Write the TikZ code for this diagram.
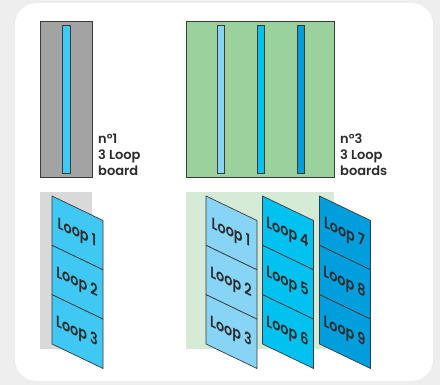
\documentclass[tikz,border=0pt]{standalone}
\usepackage{fontspec}
\setmainfont{Poppins}[BoldFont={Poppins SemiBold}]
\definecolor{pagebg}{HTML}{EEEEEE}
\definecolor{boardgray}{HTML}{A3A3A4}
\definecolor{boardgreen}{HTML}{9BD19C}
\definecolor{shadowgray}{HTML}{D9D9D9}
\definecolor{shadowgreen}{HTML}{D5EBD6}
\definecolor{loopmid}{HTML}{40C8F5}
\definecolor{looplight}{HTML}{87D4F7}
\definecolor{loopcyan}{HTML}{00C1F0}
\definecolor{loopdark}{HTML}{009EDD}
\definecolor{inkdark}{HTML}{2B2B2B}
\definecolor{edgedark}{HTML}{3A3A3A}

\tikzset{
  boardline/.style={draw=edgedark, line width=0.8pt},
  panel/.style={draw=edgedark, line width=0.7pt, line join=round},
  caption/.style={font=\bfseries\fontsize{13}{16}\selectfont, text=inkdark,
    anchor=base west, inner sep=0pt},
  looplabel/.style={font=\bfseries\fontsize{16}{18}\selectfont, text=inkdark,
    yslant=-0.48, xscale=0.8, transform shape, inner sep=0pt},
}

% one slanted column of three loop panels: left x, fill, three numbers
\newcommand\loopcolumn[5]{%
  \foreach \n [count=\i from 0] in {#3,#4,#5} {
    \pgfmathsetmacro\ya{196+\i*49.33}
    \pgfmathsetmacro\yb{196+(\i+1)*49.33}
    \draw[panel, fill=#2] (#1,\ya) -- (#1+51,\ya+24.5) -- (#1+51,\yb+24.5)
      -- (#1,\yb) -- cycle;
    \node[looplabel] (loop#1-\n) at (#1+25,\ya+12.25+25.5) {Loop \n};
  }%
}

\begin{document}
\begin{tikzpicture}[x=1pt,y=-1pt]
\useasboundingbox (0,0) rectangle (440,385);
\fill[pagebg] (0,0) rectangle (440,385);
\fill[white, rounded corners=22pt] (15,3) rectangle (433,381);

% single board, top view
\draw[boardline, fill=boardgray] (40,21) rectangle (92,177);
\draw[boardline, fill=loopmid] (62,25) rectangle (70,173);
\node[caption] (c1a) at (98,144) {n°1};
\node[caption] (c1b) at (98,160) {3 Loop};
\node[caption] (c1c) at (98,176) {board};

% three boards, top view
\draw[boardline, fill=boardgreen] (186,21) rectangle (334,177);
\draw[boardline, fill=looplight] (217,25) rectangle (224,173);
\draw[boardline, fill=loopcyan] (257,25) rectangle (264,173);
\draw[boardline, fill=loopdark] (297,25) rectangle (304,173);
\node[caption] (c3a) at (340,144) {n°3};
\node[caption] (c3b) at (340,160) {3 Loop};
\node[caption] (c3c) at (340,176) {boards};

% footprints behind the slanted columns
\fill[shadowgray] (40,192) rectangle (92,349);
\fill[shadowgreen] (186,192) rectangle (334,349);

% slanted loop columns
\loopcolumn{52}{loopmid}{1}{2}{3}
\loopcolumn{206}{looplight}{1}{2}{3}
\loopcolumn{262.5}{loopcyan}{4}{5}{6}
\loopcolumn{319.5}{loopdark}{7}{8}{9}
\end{tikzpicture}
\end{document}
